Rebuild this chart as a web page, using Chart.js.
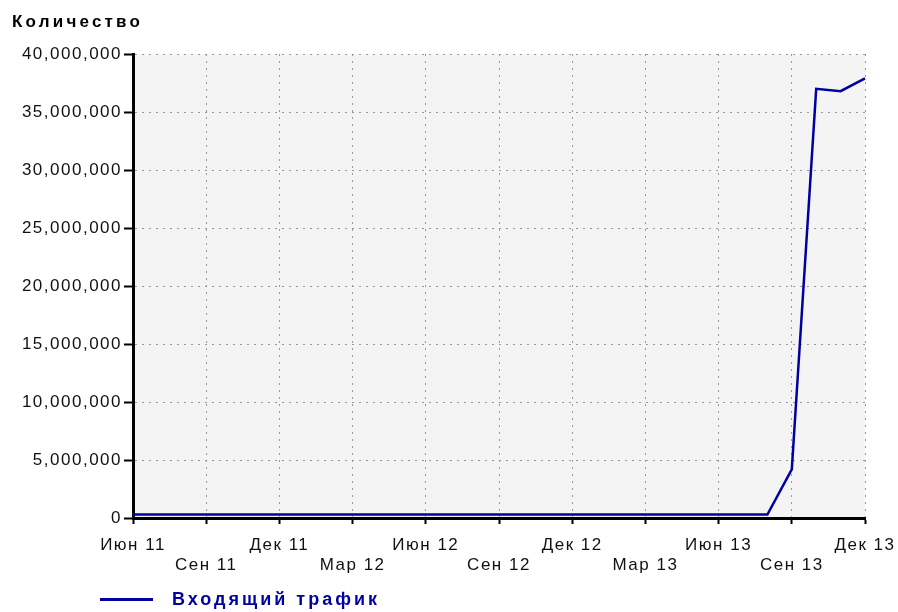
<!DOCTYPE html>
<html>
<head>
<meta charset="utf-8">
<script src="https://cdn.jsdelivr.net/npm/chart.js@4"></script>
<style>
  body { margin: 0; background: #fff; }
  #wrap { position: relative; width: 898px; height: 612px; }
  #title { position: absolute; left: 12px; top: 12px; font: bold 17px "Liberation Sans", Arial, sans-serif; letter-spacing: 3.2px; color: #000; }
  #legend { position: absolute; left: 100px; top: 589px; font: bold 18px "Liberation Sans", Arial, sans-serif; letter-spacing: 3px; color: #0000a0; display: flex; align-items: center; }
  #legend span.ln { display: inline-block; width: 53px; height: 3px; background: #0000a0; margin-right: 19px; }
</style>
</head>
<body>
<div id="wrap">
  <canvas id="myChart" width="898" height="612"></canvas>
  <div id="title">Количество</div>
  <div id="legend"><span class="ln"></span>Входящий трафик</div>
</div>
<script>
var months = ['Июн 11', 'Июл 11', 'Авг 11', 'Сен 11', 'Окт 11', 'Ноя 11', 'Дек 11', 'Янв 12', 'Фев 12', 'Мар 12',
  'Апр 12', 'Май 12', 'Июн 12', 'Июл 12', 'Авг 12', 'Сен 12', 'Окт 12', 'Ноя 12', 'Дек 12', 'Янв 13',
  'Фев 13', 'Мар 13', 'Апр 13', 'Май 13', 'Июн 13', 'Июл 13', 'Авг 13', 'Сен 13', 'Окт 13', 'Ноя 13', 'Дек 13']
var incomingTraffic = [300000, 300000, 300000, 300000, 300000, 300000, 300000, 300000, 300000, 300000,
  300000, 300000, 300000, 300000, 300000, 300000, 300000, 300000, 300000, 300000,
  300000, 300000, 300000, 300000, 300000, 300000, 300000, 4200000, 37000000, 36800000, 37900000]
var yTicks = [0, 5000000, 10000000, 15000000, 20000000, 25000000, 30000000, 35000000, 40000000]
var seriesName = 'Входящий трафик'

// plot background + letter spacing like the original picture
var chartLook = {
  id: 'chartLook',
  beforeUpdate(chart) { chart.ctx.letterSpacing = '1.5px' },
  beforeDraw(chart) {
    let c = chart.ctx, a = chart.chartArea
    c.letterSpacing = '1.5px'
    c.save()
    c.fillStyle = '#f4f4f4'
    c.fillRect(a.left, a.top, a.right - a.left, a.bottom - a.top)
    c.restore()
  }
}

let ctx = document.getElementById('myChart').getContext('2d')
let myChart = new Chart(ctx, {
  type: 'line',
  data: {
    labels: months,
    datasets: [{
      label: seriesName,
      data: incomingTraffic,
      borderColor: '#0000a0',
      borderWidth: 2.5,
      pointRadius: 0,
      tension: 0,
      fill: false,
    }],
  },
  plugins: [chartLook],
  options: {
    responsive: false,
    animation: false,
    layout: { padding: { left: 0, top: 54, right: 33, bottom: 34 } },
    plugins: { legend: { display: false }, tooltip: { enabled: false } },
    scales: {
      x: {
        afterFit: (s) => { s.height = 60; s.paddingLeft = 0; s.paddingRight = 0 },
        border: { color: '#000', width: 3, dash: [2, 5] },
        grid: {
          color: (c) => (c.index % 3 === 0 && c.index > 0 ? '#999' : 'transparent'),
          tickColor: (c) => (c.index % 3 === 0 ? '#000' : 'transparent'),
          tickBorderDash: [],
          tickLength: 6,
          tickWidth: 2,
        },
        ticks: {
          autoSkip: false,
          maxRotation: 0,
          padding: 11,
          color: '#111',
          font: { family: '"Liberation Sans", Arial, sans-serif', size: 17, lineHeight: 1.2 },
          callback: function (v, i) {
            if (i % 3 !== 0) return ''
            return (i / 3) % 2 === 0 ? [months[i], ''] : ['', months[i]]
          },
        },
      },
      y: {
        min: 0,
        max: 40000000,
        afterFit: (s) => { s.width = 133 },
        afterBuildTicks: (s) => { s.ticks = yTicks.map((v) => ({ value: v })) },
        border: { color: '#000', width: 3, dash: [2, 5] },
        grid: {
          color: (c) => (c.index > 0 ? '#999' : 'transparent'),
          tickColor: '#000',
          tickBorderDash: [],
          tickLength: 9,
          tickWidth: 2,
        },
        ticks: {
          padding: 2,
          color: '#111',
          font: { family: '"Liberation Sans", Arial, sans-serif', size: 17 },
          callback: (v) => v.toLocaleString('en-US'),
        },
      },
    },
  },
})
</script>
</body>
</html>
